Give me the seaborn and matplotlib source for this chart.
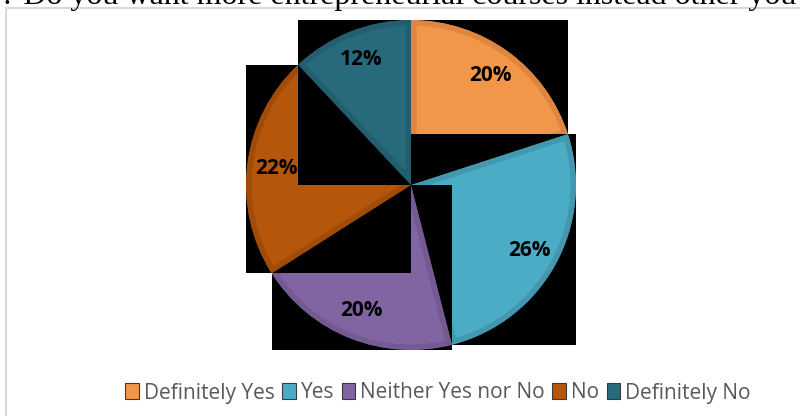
import numpy as np
import matplotlib
matplotlib.use("Agg")
import matplotlib.pyplot as plt
import seaborn as sns
from matplotlib.patches import Rectangle, Patch

categories = ["Definitely Yes", "Yes", "Neither Yes nor No", "No", "Definitely No"]
values = [20, 26, 20, 22, 12]
fill_colors = ["#F2964A", "#4BACC6", "#8165A2", "#B6560A", "#276A7C"]
edge_colors = ["#DE853F", "#4398B0", "#735A92", "#A04C08", "#225E6E"]
title_text = "? Do you want more entrepreneurial courses instead other you"

sns.set_theme(style="white")
plt.rcParams["font.family"] = ["Open Sans", "DejaVu Sans"]

W, H = 800, 416
fig = plt.figure(figsize=(W / 100, H / 100), dpi=100)
ax = fig.add_axes([0, 0, 1, 1])

palette = sns.color_palette(fill_colors)
cx, cy, R = 411, H - 185, 165

wedges, texts, autotexts = ax.pie(
    values, colors=palette, startangle=90, counterclock=False,
    center=(cx, cy), radius=R, autopct="%d%%", pctdistance=0.82,
    wedgeprops=dict(linewidth=8, antialiased=True),
    textprops=dict(fontsize=15, fontweight="bold", color="black"),
)

for i, (w, t) in enumerate(zip(wedges, autotexts)):
    t1, t2 = w.theta1, w.theta2
    angs = [t1, t2] + [a for a in range(-720, 721, 90) if t1 < a < t2]
    xs = [cx] + [cx + R * np.cos(np.radians(a)) for a in angs]
    ys = [cy] + [cy + R * np.sin(np.radians(a)) for a in angs]
    rect = Rectangle((min(xs), min(ys)), max(xs) - min(xs), max(ys) - min(ys),
                     facecolor="black", edgecolor="none", zorder=10 + 3 * i)
    ax.add_patch(rect)
    w.set_edgecolor(edge_colors[i])
    w.set_zorder(11 + 3 * i)
    w.set_clip_on(True)
    w.set_clip_path(w)
    t.set_zorder(12 + 3 * i)

# chart border
ax.add_patch(Rectangle((6, -20), W + 40, H - 8 + 20, facecolor="none",
                       edgecolor="#D9D9D9", linewidth=1.5, zorder=1))

# cut-off title text at the top
ax.text(1, H - 4, title_text, fontsize=23, family=["Liberation Serif"],
        ha="left", va="baseline", color="black", zorder=50)

handles = [Patch(facecolor=c, edgecolor="#3a3a3a", linewidth=0.8) for c in palette]
leg = ax.legend(handles, categories, loc="center", bbox_to_anchor=(438 / W, 1 - 393 / H),
                ncol=5, frameon=False, fontsize=15, handlelength=0.65, handleheight=0.8,
                handletextpad=0.25, columnspacing=0.35, borderaxespad=0)
for txt in leg.get_texts():
    txt.set_color("#595959")

ax.set_xlim(0, W)
ax.set_ylim(0, H)
ax.set_aspect("auto")
ax.axis("off")

fig.savefig("out.png", dpi=100)
